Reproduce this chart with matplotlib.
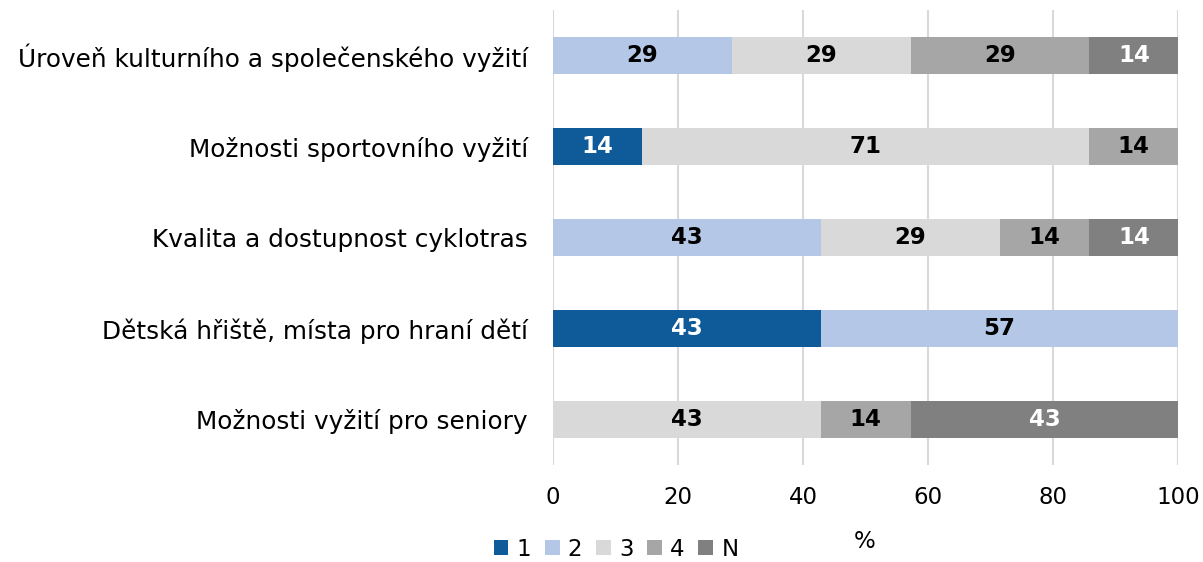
import matplotlib
matplotlib.use("Agg")
import matplotlib.pyplot as plt
import numpy as np

categories = [
    "Úroveň kulturního a společenského vyžití",
    "Možnosti sportovního vyžití",
    "Kvalita a dostupnost cyklotras",
    "Dětská hřiště, místa pro hraní dětí",
    "Možnosti vyžití pro seniory",
]
series_names = ["1", "2", "3", "4", "N"]
s1 = [0, 14.3, 0, 42.9, 0]
s2 = [28.6, 0, 42.9, 57.1, 0]
s3 = [28.6, 71.4, 28.6, 0, 42.9]
s4 = [28.6, 14.3, 14.3, 0, 14.3]
sN = [14.3, 0, 14.3, 0, 42.9]
xticks = [0, 20, 40, 60, 80, 100]

colors = ["#0F5B99", "#B4C7E7", "#D9D9D9", "#A6A6A6", "#808080"]
text_colors = ["white", "black", "black", "black", "white"]

plt.rcParams['font.family'] = ['DejaVu Sans']

fig = plt.figure(figsize=(12.03, 5.62), dpi=100)
ax = fig.add_axes([553/1203, 1 - 465/562, 625/1203, 455/562])

y = np.arange(len(categories))
left = np.zeros(len(categories))
for name, vals, c, tc in zip(series_names, [s1, s2, s3, s4, sN], colors, text_colors):
    vals = np.array(vals, dtype=float)
    bars = ax.barh(y, vals, left=left, height=0.4, color=c, label=name, zorder=3)
    for b, v in zip(bars, vals):
        if v > 0:
            ax.text(b.get_x() + b.get_width() / 2, b.get_y() + b.get_height() / 2,
                    f"{v:.0f}", ha="center", va="center", color=tc,
                    fontsize=16.5, fontweight="bold", zorder=4)
    left += vals

ax.set_xlim(0, 100)
ax.set_ylim(len(categories) - 0.5, -0.5)
ax.set_yticks(y)
ax.set_yticklabels(categories, fontsize=17.8)
ax.set_xticks(xticks)
ax.set_xticklabels([str(t) for t in xticks], fontsize=16.5)
ax.tick_params(axis="x", length=0, pad=15)
ax.tick_params(axis="y", length=0, pad=18)
ax.grid(axis="x", color="#D9D9D9", linewidth=1.5, zorder=0)
for s in ax.spines.values():
    s.set_visible(False)

fig.text(865/1203, 1 - 541/562, "%", ha="center", va="center", fontsize=16.5)

handles, labels = ax.get_legend_handles_labels()
leg = fig.legend(handles, labels, loc="center", bbox_to_anchor=(616/1203, 1 - 549/562),
                 ncol=5, frameon=False, fontsize=16.5, handlelength=0.65, handleheight=0.65,
                 handletextpad=0.35, columnspacing=0.6, borderpad=0)

fig.savefig("out.png", dpi=100)
